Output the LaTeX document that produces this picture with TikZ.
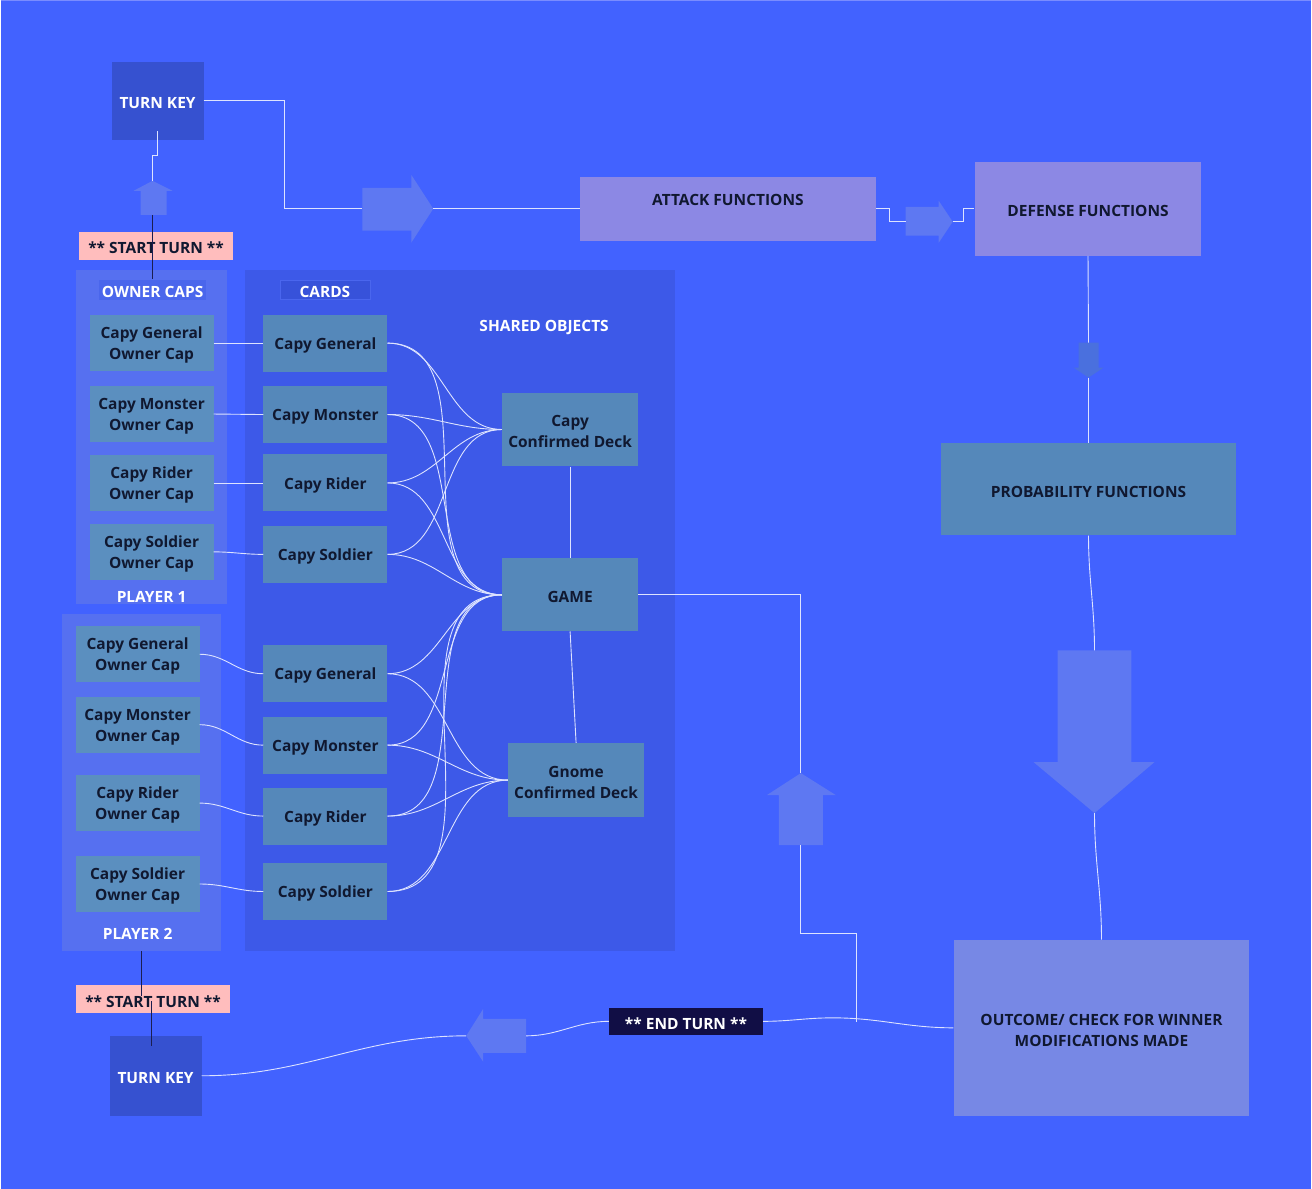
\documentclass[tikz,border=0pt]{standalone}
\usepackage{fontspec}
\setmainfont{Open Sans}
\usepackage{tikz}
\definecolor{bgc}{HTML}{4262FF}
\definecolor{topc}{HTML}{7A8CFF}
\definecolor{keyc}{HTML}{3651D0}
\definecolor{ownc}{HTML}{5670F0}
\definecolor{ownlabc}{HTML}{4A66EC}
\definecolor{cardsc}{HTML}{3D59E8}
\definecolor{cardlabc}{HTML}{3752DA}
\definecolor{cardlabd}{HTML}{4A66EE}
\definecolor{capc}{HTML}{5B8FBF}
\definecolor{cardc}{HTML}{5588BA}
\definecolor{funcc}{HTML}{8C88E4}
\definecolor{outc}{HTML}{7788E5}
\definecolor{arrowc}{HTML}{5E78F2}
\definecolor{arrowdk}{HTML}{4A70DE}
\definecolor{pinkc}{HTML}{FFBDBD}
\definecolor{endc}{HTML}{110E45}
\definecolor{inkc}{HTML}{101830}
\definecolor{linec}{HTML}{DDE3FF}
\definecolor{darkc}{HTML}{1B1E50}
\newcommand\nudge{\rule{0pt}{16pt}}

\begin{document}
\begin{tikzpicture}[x=1pt,y=-1pt,
        boxed/.style={rectangle,inner sep=0pt,align=center,text=inkc,
            font=\bfseries\fontsize{15.5}{21}\selectfont},
        capbox/.style={boxed,fill=capc,minimum width=124,minimum height=56},
        cardbox/.style={boxed,fill=cardc,minimum width=124,minimum height=57},
        deckbox/.style={boxed,fill=cardc,minimum width=136,minimum height=74},
        keybox/.style={boxed,fill=keyc,text=white,minimum width=92},
        funcbox/.style={boxed,fill=funcc},
        panel/.style={rectangle,inner sep=0pt},
        tagtext/.style={boxed,text=white},
        startlabel/.style={boxed,fill=pinkc,minimum width=155,minimum height=28},
        conn/.style={draw=linec,line width=0.9pt},
        darkline/.style={draw=darkc,line width=0.9pt},
        blockarrow/.style={fill=arrowc}]
                \fill [bgc] (0,0) rectangle (1312,1190);
                \draw [topc,line width=1.5pt] (0,0.75) -- (1312,0.75);
                \useasboundingbox (0,0) rectangle (1312,1190);

                \node [panel,fill=ownc,minimum width=152,minimum height=335] (p1) at (151,437.5) {};
                \node [panel,fill=ownc,minimum width=160,minimum height=337] (p2) at (141,783.5) {};
                \node [panel,fill=cardsc,minimum width=430,minimum height=682] (cards) at (460,611) {};

                \node [tagtext,fill=ownlabc,minimum width=107,minimum height=20] (ocl) at (152,290) {\nudge OWNER CAPS};
                \node [tagtext,fill=cardlabc,draw=cardlabd,minimum width=90,minimum height=19] (cdl) at (324.5,290) {\nudge CARDS};
                \node [tagtext] (shared) at (544,326) {\nudge SHARED OBJECTS};
                \node [tagtext] (pl1) at (151,595) {\nudge PLAYER 1};
                \node [tagtext] (pl2) at (137,933) {\nudge PLAYER 2};

                \node [capbox] (o1a) at (151,343.5) {\nudge Capy General\\Owner Cap};
                \node [capbox] (o1b) at (151,414.5) {\nudge Capy Monster\\Owner Cap};
                \node [capbox] (o1c) at (151,483.5) {\nudge Capy Rider\\Owner Cap};
                \node [capbox] (o1d) at (151,552.5) {\nudge Capy Soldier\\Owner Cap};
                \node [capbox] (o2a) at (137,655) {\nudge Capy General\\Owner Cap};
                \node [capbox] (o2b) at (137,725.5) {\nudge Capy Monster\\Owner Cap};
                \node [capbox] (o2c) at (137,804) {\nudge Capy Rider\\Owner Cap};
                \node [capbox] (o2d) at (137,885) {\nudge Capy Soldier\\Owner Cap};

                \node [cardbox] (c1a) at (325,343.5) {\nudge Capy General};
                \node [cardbox] (c1b) at (325,415) {\nudge Capy Monster};
                \node [cardbox] (c1c) at (325,483.5) {\nudge Capy Rider};
                \node [cardbox] (c1d) at (325,555) {\nudge Capy Soldier};
                \node [cardbox] (c2a) at (325,674.5) {\nudge Capy General};
                \node [cardbox] (c2b) at (325,746) {\nudge Capy Monster};
                \node [cardbox] (c2c) at (325,817) {\nudge Capy Rider};
                \node [cardbox] (c2d) at (325,892.5) {\nudge Capy Soldier};

                \node [deckbox] (capydeck) at (570,430) {\nudge Capy\\Confirmed Deck};
                \node [deckbox,minimum height=73] (game) at (570,595.5) {\nudge GAME};
                \node [deckbox] (gnomedeck) at (576,781) {\nudge Gnome\\Confirmed Deck};

                \node [keybox,minimum height=78] (tk1) at (157,101) {\nudge TURN KEY};
                \node [keybox,minimum height=80] (tk2) at (155,1077) {\nudge TURN KEY};

                \node [funcbox,minimum width=296,minimum height=64,text height=20,text depth=26] (attack) at (728,209) {ATTACK FUNCTIONS};
                \node [funcbox,minimum width=227,minimum height=94] (defense) at (1088.5,209) {\nudge DEFENSE FUNCTIONS};
                \node [boxed,fill=cardc,minimum width=296,minimum height=92] (prob) at (1089,490) {\nudge PROBABILITY FUNCTIONS};
                \node [boxed,fill=outc,minimum width=296,minimum height=176] (outcome) at (1102,1029) {\nudge OUTCOME/ CHECK FOR WINNER\\MODIFICATIONS MADE};

                \node [startlabel] (start1) at (155.5,246) {\nudge ** START TURN **};
                \node [startlabel] (start2) at (152.5,1000.5) {\nudge ** START TURN **};
                \node [boxed,fill=endc,text=white,minimum width=154,minimum height=27] (endturn) at (686,1022.5) {\nudge ** END TURN **};

                \fill [blockarrow] (362,188) -- (411,188) -- (411,175) -- (433,209) -- (411,243) -- (411,231) -- (362,231) -- cycle;
                \coordinate (a1tail) at (362,209);
                \coordinate (a1tip) at (433,209);
                \fill [blockarrow] (906,207) -- (939,207) -- (939,201) -- (953,222) -- (939,243) -- (939,236) -- (906,236) -- cycle;
                \coordinate (a2tail) at (906,222);
                \coordinate (a2tip) at (953,222);
                \fill [blockarrow] (140,215) -- (140,191) -- (133,191) -- (152,181) -- (172,191) -- (166,191) -- (166,215) -- cycle;
                \coordinate (a3tail) at (152,215);
                \coordinate (a3tip) at (152,181);
                \fill [arrowdk] (1079,343) -- (1099,343) -- (1099,368) -- (1104,368) -- (1089,378) -- (1074,368) -- (1079,368) -- cycle;
                \coordinate (a4tail) at (1089,343);
                \coordinate (a4tip) at (1089,378);
                \fill [blockarrow] (1058,651) -- (1132,651) -- (1132,763) -- (1155,763) -- (1095,814) -- (1034,763) -- (1058,763) -- cycle;
                \coordinate (a5tail) at (1095,651);
                \coordinate (a5tip) at (1095,814);
                \fill [blockarrow] (779,846) -- (779,796) -- (767,796) -- (801,774) -- (836,796) -- (823,796) -- (823,846) -- cycle;
                \coordinate (a6tail) at (801,846);
                \coordinate (a6tip) at (801,774);
                \fill [blockarrow] (526,1020) -- (483,1020) -- (483,1010) -- (466,1037) -- (483,1063) -- (483,1054) -- (526,1054) -- cycle;
                \coordinate (a7tail) at (526,1037);
                \coordinate (a7tip) at (466,1037);

                \draw [conn] (tk1.east) -- ++(81,0) |- (a1tail);
                \draw [conn] (a1tip) -- (attack.west);
                \draw [conn] (attack.east) -- ++(14,0) |- (a2tail);
                \draw [conn] (a2tip) -- ++(11,0) |- (defense.west);
                \draw [conn] (defense.south) -- (a4tail);
                \draw [conn] (a4tip) -- (prob.north);
                \draw [conn] (prob.south) to [out=-90,in=90] (a5tail);
                \draw [conn] (a5tip) to [out=-90,in=90] (outcome.north);
                \draw [conn] (a3tip) -- ++(0,-25) -- ++(5,0) -- ++(0,-25);

                \draw [conn] (o1a.east) -- (c1a.west);
                \draw [conn] (o1b.east) -- (c1b.west);
                \draw [conn] (o1c.east) -- (c1c.west);
                \draw [conn] (o1d.east) to [out=0,in=180] (c1d.west);
                \draw [conn] (o2a.east) to [out=0,in=180] (c2a.west);
                \draw [conn] (o2b.east) to [out=0,in=180] (c2b.west);
                \draw [conn] (o2c.east) to [out=0,in=180] (c2c.west);
                \draw [conn] (o2d.east) to [out=0,in=180] (c2d.west);

                \foreach \c in {c1a,c1b,c1c,c1d} {
                    \draw [conn] (\c.east) to [out=0,in=180] (capydeck.west);
                    \draw [conn] (\c.east) to [out=0,in=180] (game.west);
                }
                \foreach \c in {c2a,c2b,c2c,c2d} {
                    \draw [conn] (\c.east) to [out=0,in=180] (game.west);
                    \draw [conn] (\c.east) to [out=0,in=180] (gnomedeck.west);
                }
                \draw [conn] (capydeck.south) -- (game.north);
                \draw [conn] (game.south) -- (gnomedeck.north);

                \draw [conn] (game.east) -- (801,595.5) -- (a6tip);
                \coordinate (joinpt) at (857,1023);
                \draw [conn] (a6tail) -- (801,935) -| (joinpt);
                \draw [conn] (outcome.west) to [out=180,in=0] (833,1019) to [out=180,in=0] (endturn.east);
                \draw [conn] (endturn.west) to [out=180,in=0] (a7tail);
                \draw [conn] (a7tip) to [out=180,in=0] (tk2.east);

                \draw [darkline] (a3tail) -- (ocl.north);
                \draw [darkline] (p2.south) -- ++(0,45);
                \draw [darkline] (151,1002) -- (151,1047);
\end{tikzpicture}
\end{document}
